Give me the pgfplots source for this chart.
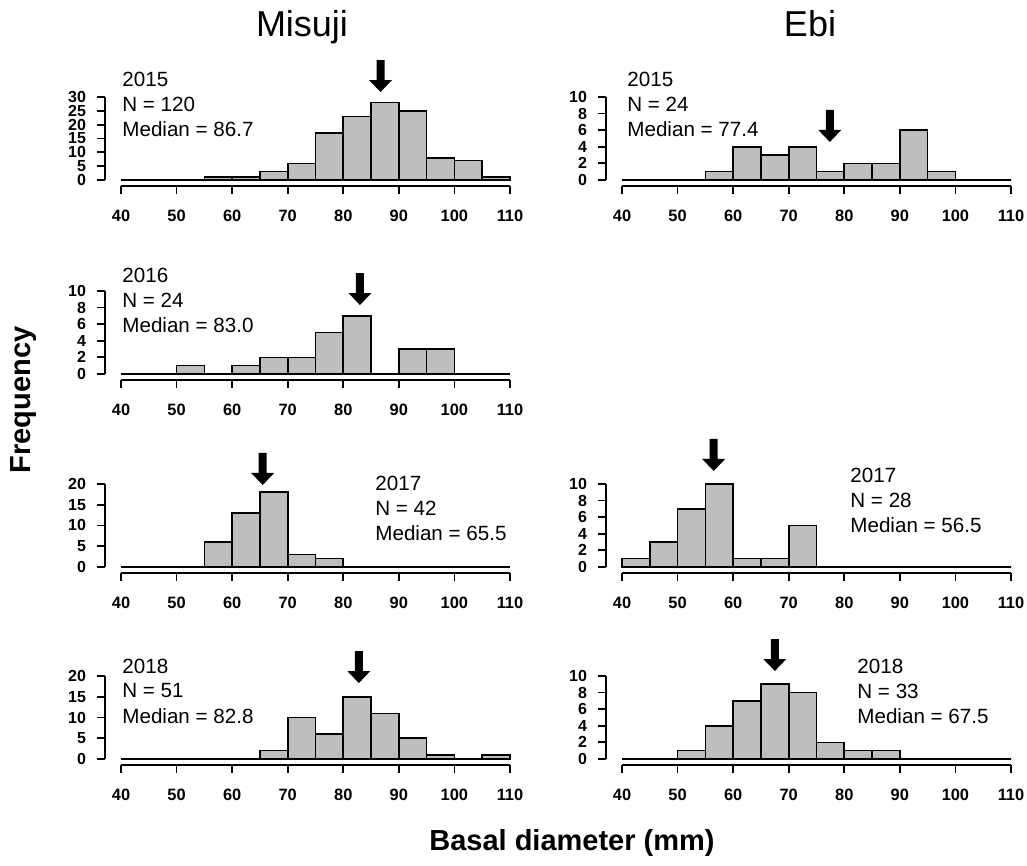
\documentclass[border=0pt]{standalone}
\usepackage{fontspec}
\setmainfont{Liberation Sans}
\usepackage{pgfplots}
\pgfplotsset{compat=1.18}
\definecolor{barfill}{RGB}{190,190,190}
\pgfplotsset{hist/.style={
  scale only axis, width=202.5pt, height=44.5pt,
  xmin=37.12, xmax=110,
  axis lines*=left, axis line style={draw=none},
  tick align=outside, major tick length=4pt,
  tick style={black, line width=0.9pt},
  xtick={40,50,...,110},
  x tick label style={font=\bfseries\fontsize{8.2}{9}\selectfont, yshift=-4.5pt},
  y tick label style={font=\bfseries\fontsize{8}{8}\selectfont, xshift=-2pt},
  /pgf/number format/assume math mode=true,
  clip=false, anchor=south west,
}}
\tikzset{axl/.style={line width=0.9pt, black},
  bars/.style={ybar, bar width=5, fill=barfill, draw=black, line width=0.8pt},
  ann/.style={anchor=west, font=\fontsize{10.3}{12}\selectfont, inner sep=0pt}}
\newcommand\medarrow[2]{\fill[black] (axis cs:#1,#2) -- ++(-5.75pt,6pt) -- ++(3.75pt,0pt) -- ++(0pt,10pt) -- ++(4pt,0pt) -- ++(0pt,-10pt) -- ++(3.75pt,0pt) -- cycle;}
\begin{document}
\begin{tikzpicture}
\path[use as bounding box] (0,0) rectangle (513.5pt,433pt);

% ---------- Misuji 2015
\begin{axis}[hist, at={(52.5pt,340pt)}, ymin=-2.169, ymax=30, ytick={0,5,...,30}]
\addplot[bars] coordinates {(42.5,0)(47.5,0)(52.5,0)(57.5,1)(62.5,1)(67.5,3)(72.5,6)(77.5,17)(82.5,23)(87.5,28)(92.5,25)(97.5,8)(102.5,7)(107.5,1)};
\draw[axl] (axis cs:40,-2.169) -- (axis cs:110,-2.169);
\draw[axl] (axis cs:37.12,0) -- (axis cs:37.12,30);
\medarrow{86.7}{31.8}
\end{axis}

% ---------- Ebi 2015
\begin{axis}[hist, at={(303pt,340pt)}, ymin=-0.723, ymax=10, ytick={0,2,...,10}]
\addplot[bars] coordinates {(42.5,0)(47.5,0)(52.5,0)(57.5,1)(62.5,4)(67.5,3)(72.5,4)(77.5,1)(82.5,2)(87.5,2)(92.5,6)(97.5,1)(102.5,0)(107.5,0)};
\draw[axl] (axis cs:40,-0.723) -- (axis cs:110,-0.723);
\draw[axl] (axis cs:37.12,0) -- (axis cs:37.12,10);
\medarrow{77.4}{4.58}
\end{axis}

% ---------- Misuji 2016
\begin{axis}[hist, at={(52.5pt,243pt)}, ymin=-0.723, ymax=10, ytick={0,2,...,10}]
\addplot[bars] coordinates {(42.5,0)(47.5,0)(52.5,1)(57.5,0)(62.5,1)(67.5,2)(72.5,2)(77.5,5)(82.5,7)(87.5,0)(92.5,3)(97.5,3)(102.5,0)(107.5,0)};
\draw[axl] (axis cs:40,-0.723) -- (axis cs:110,-0.723);
\draw[axl] (axis cs:37.12,0) -- (axis cs:37.12,10);
\medarrow{83.0}{8.31}
\end{axis}

% ---------- Misuji 2017
\begin{axis}[hist, at={(52.5pt,146.5pt)}, ymin=-1.446, ymax=20, ytick={0,5,...,20}]
\addplot[bars] coordinates {(42.5,0)(47.5,0)(52.5,0)(57.5,6)(62.5,13)(67.5,18)(72.5,3)(77.5,2)(82.5,0)(87.5,0)(92.5,0)(97.5,0)(102.5,0)(107.5,0)};
\draw[axl] (axis cs:40,-1.446) -- (axis cs:110,-1.446);
\draw[axl] (axis cs:37.12,0) -- (axis cs:37.12,20);
\medarrow{65.5}{19.76}
\end{axis}

% ---------- Ebi 2017
\begin{axis}[hist, at={(303pt,146.5pt)}, ymin=-0.723, ymax=10, ytick={0,2,...,10}]
\addplot[bars] coordinates {(42.5,1)(47.5,3)(52.5,7)(57.5,10)(62.5,1)(67.5,1)(72.5,5)(77.5,0)(82.5,0)(87.5,0)(92.5,0)(97.5,0)(102.5,0)(107.5,0)};
\draw[axl] (axis cs:40,-0.723) -- (axis cs:110,-0.723);
\draw[axl] (axis cs:37.12,0) -- (axis cs:37.12,10);
\medarrow{56.5}{11.57}
\end{axis}

% ---------- Misuji 2018
\begin{axis}[hist, at={(52.5pt,50.5pt)}, ymin=-1.446, ymax=20, ytick={0,5,...,20}]
\addplot[bars] coordinates {(42.5,0)(47.5,0)(52.5,0)(57.5,0)(62.5,0)(67.5,2)(72.5,10)(77.5,6)(82.5,15)(87.5,11)(92.5,5)(97.5,1)(102.5,0)(107.5,1)};
\draw[axl] (axis cs:40,-1.446) -- (axis cs:110,-1.446);
\draw[axl] (axis cs:37.12,0) -- (axis cs:37.12,20);
\medarrow{82.8}{18.3}
\end{axis}

% ---------- Ebi 2018
\begin{axis}[hist, at={(303pt,50.5pt)}, ymin=-0.723, ymax=10, ytick={0,2,...,10}]
\addplot[bars] coordinates {(42.5,0)(47.5,0)(52.5,1)(57.5,4)(62.5,7)(67.5,9)(72.5,8)(77.5,2)(82.5,1)(87.5,1)(92.5,0)(97.5,0)(102.5,0)(107.5,0)};
\draw[axl] (axis cs:40,-0.723) -- (axis cs:110,-0.723);
\draw[axl] (axis cs:37.12,0) -- (axis cs:37.12,10);
\medarrow{67.5}{10.6}
\end{axis}

\begin{scope}[x=0.5pt, y=-0.5pt, shift={(0pt,433pt)}]
% ---------- annotations
\node[ann] at (122,79) {2015};
\node[ann] at (122,104) {N = 120};
\node[ann] at (122,129) {Median = 86.7};

\node[ann] at (627,79) {2015};
\node[ann] at (627,104) {N = 24};
\node[ann] at (627,129) {Median = 77.4};

\node[ann] at (122,275) {2016};
\node[ann] at (122,300) {N = 24};
\node[ann] at (122,325) {Median = 83.0};

\node[ann] at (375,483) {2017};
\node[ann] at (375,508) {N = 42};
\node[ann] at (375,533) {Median = 65.5};

\node[ann] at (850,475) {2017};
\node[ann] at (850,500) {N = 28};
\node[ann] at (850,525) {Median = 56.5};

\node[ann] at (122,666) {2018};
\node[ann] at (122,691) {N = 51};
\node[ann] at (122,716) {Median = 82.8};

\node[ann] at (857,666) {2018};
\node[ann] at (857,691) {N = 33};
\node[ann] at (857,716) {Median = 67.5};

% ---------- titles
\node[font=\fontsize{18}{20}\selectfont, anchor=base] at (302,37) {Misuji};
\node[font=\fontsize{18}{20}\selectfont, anchor=base] at (810,37) {Ebi};
\node[font=\bfseries\fontsize{14.5}{16}\selectfont, rotate=90] at (24,400) {Frequency};
\node[font=\bfseries\fontsize{14.5}{16}\selectfont] at (572,843) {Basal diameter (mm)};
\end{scope}
\end{tikzpicture}
\end{document}
